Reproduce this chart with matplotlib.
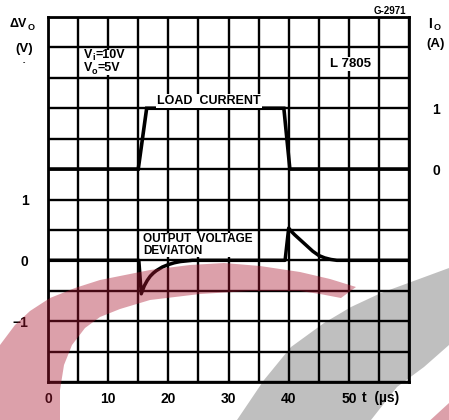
import matplotlib
matplotlib.use("Agg")
import matplotlib.pyplot as plt
from matplotlib.patches import Polygon, Rectangle
import numpy as np

# ---- data -------------------------------------------------------------
t_current = [0, 15.0, 16.4, 39.2, 40.2, 60]          # µs
load_current = [0, 0, 1, 1, 0, 0]                     # A

t_dev = [0, 15.1, 15.5, 16.0, 16.5, 17.0, 17.5, 18.0, 19.0, 20.0, 21.0,
         22.0, 23.0, 24.0, 39.4, 40.0, 40.5, 41.0, 42.0, 43.0, 44.0, 45.0,
         46.0, 47.0, 48.0, 60]
v_dev = [0, 0, -0.55, -0.42, -0.33, -0.26, -0.21, -0.17, -0.11, -0.07, -0.04,
         -0.02, -0.01, 0, 0, 0.53, 0.47, 0.42, 0.33, 0.24, 0.15, 0.08,
         0.04, 0.015, 0, 0]                           # V

x_ticks = [0, 10, 20, 30, 40, 50]
v_ticks = [-1, 0, 1]
i_ticks = [0, 1]

# ---- figure -----------------------------------------------------------
W, H = 449, 420
plt.rcParams['font.family'] = ['Liberation Sans', 'DejaVu Sans']
plt.rcParams['font.weight'] = 'bold'
fig = plt.figure(figsize=(W / 100, H / 100), dpi=100)
fig.patch.set_facecolor('white')


def px(x, y):
    return x / W, 1 - y / H


ax = fig.add_axes([48 / W, 38 / H, 361 / W, 365 / H])
ax.set_xlim(0, 60)
ax.set_ylim(-2, 4)

# grid: 5 µs by 0.5 V
xt = np.arange(0, 60.1, 5)
yt = np.arange(-2, 4.01, 0.5)
ax.set_xticks(xt)
ax.set_xticklabels([f"{int(v)}" if v in x_ticks else "" for v in xt])
ax.set_yticks(yt)
ax.set_yticklabels([f"{int(v)}".replace('-', '−') if v in v_ticks else "" for v in yt])
ax.grid(True, color='black', lw=1.7, zorder=1)
ax.tick_params(length=0, labelsize=10)
ax.tick_params(axis='x', pad=7)
ax.tick_params(axis='y', pad=14)
for s in ax.spines.values():
    s.set_linewidth(2)
    s.set_zorder(3)

ax.plot(t_dev, v_dev, color='black', lw=2.5, solid_joinstyle='round', zorder=4)

ax2 = ax.twinx()
ax2.set_ylim(-3.5, 2.5)
ax2.set_yticks(i_ticks)
ax2.set_yticklabels([str(v) for v in i_ticks])
ax2.tick_params(length=0, labelsize=10, pad=17)
for s in ax2.spines.values():
    s.set_visible(False)
ax2.plot(t_current, load_current, color='black', lw=2.6, solid_joinstyle='miter', zorder=4)

# ---- labels -----------------------------------------------------------
fig.text(*px(18, 24), "ΔV", ha='center', va='center', fontsize=9, fontweight='bold')
fig.text(*px(31, 28), "O", ha='center', va='center', fontsize=6.5, fontweight='bold')
fig.text(*px(24, 49), "(V)", ha='center', va='center', fontsize=9.5, fontweight='bold')
fig.text(*px(24, 63), "-", ha='center', va='center', fontsize=5)

fig.text(*px(430, 24), "I", ha='center', va='center', fontsize=10, fontweight='bold')
fig.text(*px(437, 28), "O", ha='center', va='center', fontsize=6.5, fontweight='bold')
fig.text(*px(436, 44), "(A)", ha='center', va='center', fontsize=9.5, fontweight='bold')

fig.text(*px(390, 11), "G-2971", ha='center', va='center', fontsize=7, fontweight='bold')
fig.text(*px(362, 398), "t  (µs)", ha='left', va='center', fontsize=10, fontweight='bold')

# supply conditions, on a white backing that hides the grid behind them
fig.add_artist(Rectangle(px(83, 75), 39 / W, 25 / H, transform=fig.transFigure,
                         facecolor='white', edgecolor='none', zorder=5))
fig.text(*px(84, 55), "V", ha='left', va='center', fontsize=9, fontweight='bold', zorder=6)
fig.text(*px(92, 58), "i", ha='left', va='center', fontsize=6.5, fontweight='bold', zorder=6)
fig.text(*px(96, 55), "=10V", ha='left', va='center', fontsize=9, fontweight='bold', zorder=6)
fig.text(*px(84, 68), "V", ha='left', va='center', fontsize=9, fontweight='bold', zorder=6)
fig.text(*px(92, 71), "o", ha='left', va='center', fontsize=6.5, fontweight='bold', zorder=6)
fig.text(*px(98, 68), "=5V", ha='left', va='center', fontsize=9, fontweight='bold', zorder=6)

box = dict(facecolor='white', edgecolor='none', pad=0.5)
fig.text(*px(350, 64), "L 7805", ha='center', va='center', fontsize=9.5,
         fontweight='bold', bbox=box, zorder=5)
fig.text(*px(209, 101), "LOAD  CURRENT", ha='center', va='center', fontsize=9,
         fontweight='bold', bbox=box, zorder=5)
fig.text(*px(143, 245), "OUTPUT  VOLTAGE\nDEVIATON", ha='left', va='center',
         fontsize=8.5, fontweight='bold', linespacing=0.95, bbox=box, zorder=5)

# ---- background swoosh overlay ---------------------------------------
wm = fig.add_axes([0, 0, 1, 1], zorder=10)
wm.set_xlim(0, W)
wm.set_ylim(H, 0)
wm.axis('off')
wm.patch.set_alpha(0)

pink_band = [(-10, 372), (0, 345), (15, 325), (30, 311), (50, 298), (75, 288),
             (100, 280), (150, 270), (190, 265), (224, 263), (260, 266),
             (300, 272), (330, 279), (356, 287), (341, 298), (320, 294),
             (300, 291), (250, 291), (200, 294), (150, 300), (120, 309),
             (100, 317), (85, 328), (72, 345), (64, 365), (60, 390),
             (60, 425), (-10, 425)]
pink_corner = [(425, 425), (449, 403), (455, 400), (455, 425)]
gray_band = [(230, 425), (237, 420), (264, 380), (291, 347), (324, 323),
             (351, 307), (381, 293), (411, 282), (449, 268), (455, 266),
             (455, 342), (449, 345), (424, 367), (397, 387), (371, 420),
             (368, 425)]

pink = (171 / 255, 24 / 255, 49 / 255)
for poly in (pink_band, pink_corner):
    wm.add_patch(Polygon(poly, closed=True, facecolor=pink, edgecolor='none', alpha=0.41))
wm.add_patch(Polygon(gray_band, closed=True, facecolor='black', edgecolor='none', alpha=0.25))

fig.savefig("out.png", dpi=100, facecolor='white')
